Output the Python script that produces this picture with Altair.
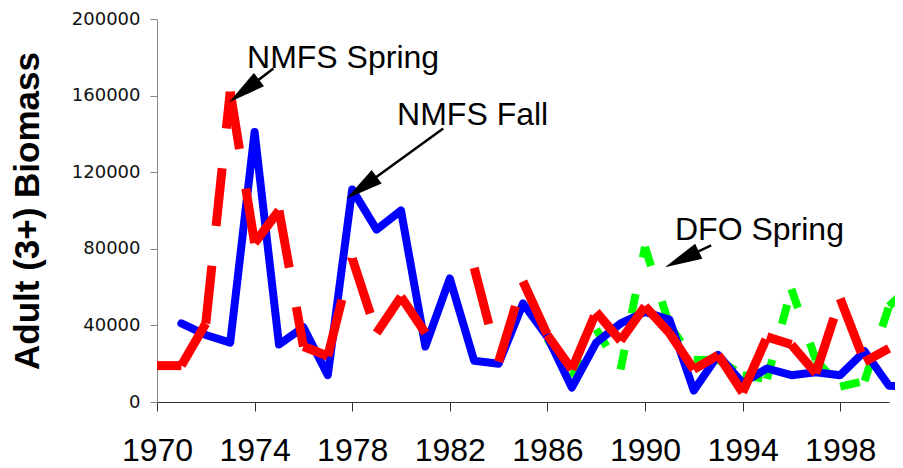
import math
import altair as alt
import pandas as pd

# ---------------- data ----------------
years = list(range(1970, 2002))
nmfs_fall = [None, 41000, 35000, 31000, 141000, 30000, 39000, 14000, 111000, 90000,
             100000, 29000, 64500, 21500, 20000, 51500, 34000, 7500, 31000, 41000,
             47000, 43000, 6000, 24500, 10000, 17500, 14000, 15500, 14000, 26500,
             8500, 8000]
nmfs_spring = [19000, 19000, 41000, 162000, 83000, 100000, 29000, 24000, 75000, 36000,
               55000, 36000, None, 70000, 21000, 63000, 35000, 17000, 47000, 32000,
               50000, 36000, 17000, 24500, 5000, 34000, 30000, 15000, 54000, 21000,
               28000, None]
dfo_spring = [None] * 16 + [33000, 13000, 38000, 17000, 81000, 40000, 22000, 22000,
                            14000, 12000, 59000, 22000, 8000, 11000, 50000, 62000]

x_ticks = [1970, 1974, 1978, 1982, 1986, 1990, 1994, 1998]
y_ticks = [0, 40000, 80000, 120000, 160000, 200000]

ann_labels = ["NMFS Spring", "NMFS Fall", "DFO Spring"]
ann_text_year = [1973.69, 1979.84, 1991.23]
ann_text_val = [174300, 144500, 84400]
ann_tail_year = [1974.77, 1981.73, 1992.71]
ann_tail_val = [174100, 142800, 81800]
ann_tip_year = [1973.24, 1978.05, 1991.14]
ann_tip_val = [159300, 108800, 72300]

# ---------------- layout ----------------
W, H = 732, 383
X_DOM = [1970, 2000]
Y_DOM = [0, 200000]
px_year = W / (X_DOM[1] - X_DOM[0])
px_val = H / (Y_DOM[1] - Y_DOM[0])


def segments(vals, name):
    rows = []
    for i in range(len(years) - 1):
        a, b = vals[i], vals[i + 1]
        if a is None or b is None:
            continue
        rows.append({"year": years[i], "val": a, "seg": i, "series": name})
        rows.append({"year": years[i + 1], "val": b, "seg": i, "series": name})
    return pd.DataFrame(rows)


fall_df = pd.DataFrame([{"year": y, "val": v} for y, v in zip(years, nmfs_fall) if v is not None])
spring_df = segments(nmfs_spring, "NMFS Spring")
dfo_df = segments(dfo_spring, "DFO Spring")

# annotation tables
text_df = pd.DataFrame({"year": ann_text_year, "val": ann_text_val, "label": ann_labels})
shaft_rows, head_rows = [], []
head_len = 20.0
for ty, tv, hy, hv in zip(ann_tail_year, ann_tail_val, ann_tip_year, ann_tip_val):
    dx = (hy - ty) * px_year
    dy = -(hv - tv) * px_val
    L = math.hypot(dx, dy)
    ux, uy = dx / L, dy / L
    cy = hy - (head_len / 2) * ux / px_year
    cv = hv + (head_len / 2) * uy / px_val
    ang = math.degrees(math.atan2(ux, -uy)) % 360
    shaft_rows.append({"year": ty, "val": tv, "year2": cy, "val2": cv})
    head_rows.append({"year": cy, "val": cv, "ang": ang})
shaft_df = pd.DataFrame(shaft_rows)
head_df = pd.DataFrame(head_rows)

x_axis = alt.Axis(values=x_ticks, format="d", labelFont="Liberation Sans", labelFontSize=32,
                  labelColor="black", tickSize=9, tickColor="#333", domainColor="#333",
                  labelPadding=24, title=None, labelFlush=False, labelOverlap=False, grid=False)
y_axis = alt.Axis(values=y_ticks, format="d", labelFont="DejaVu Sans", labelFontSize=18,
                  labelColor="#111", tickSize=7, tickColor="#888", domainColor="#888",
                  labelPadding=10, title="Adult (3+) Biomass", titleFont="Liberation Sans",
                  titleFontSize=35, titleFontWeight="bold", titleColor="black",
                  titlePadding=26, labelFlush=False, grid=False)

X = alt.X("year:Q", scale=alt.Scale(domain=X_DOM, nice=False, zero=False), axis=x_axis)
Y = alt.Y("val:Q", scale=alt.Scale(domain=Y_DOM, nice=False), axis=y_axis)

green = alt.Chart(dfo_df).mark_line(color="#00FF00", strokeWidth=8, strokeDash=[20, 37],
                                    strokeCap="butt", clip=False).encode(
    x=X, y=Y, detail="seg:N")
blue = alt.Chart(fall_df).mark_line(color="#0000FF", strokeWidth=8, strokeCap="round",
                                    strokeJoin="round", clip=False).encode(x=X, y=Y)
red = alt.Chart(spring_df).mark_line(color="#FF0000", strokeWidth=9, strokeDash=[58, 40],
                                     strokeCap="butt", clip=False).encode(
    x=X, y=Y, detail="seg:N")

texts = alt.Chart(text_df).mark_text(align="left", baseline="alphabetic", font="Liberation Sans",
                                     fontSize=32, color="black").encode(
    x=X, y=Y, text="label:N")
shafts = alt.Chart(shaft_df).mark_rule(color="black", strokeWidth=2.5).encode(
    x=X, y=Y, x2="year2:Q", y2="val2:Q")
heads = alt.Chart(head_df).mark_point(shape="M0,-1L0.45,1L-0.45,1Z", filled=True, color="black",
                                      size=1400, opacity=1, strokeWidth=0).encode(
    x=X, y=Y, angle=alt.Angle("ang:Q", scale=None))

chart = alt.layer(green, blue, red, shafts, heads, texts).properties(
    width=W, height=H,
    autosize=alt.AutoSizeParams(type="none"),
    padding={"left": 149, "top": 11, "right": 6, "bottom": 64},
).configure_view(strokeWidth=0).configure_axis(grid=False)

chart.save("out.html", embed_options={"renderer": "svg", "actions": False})
